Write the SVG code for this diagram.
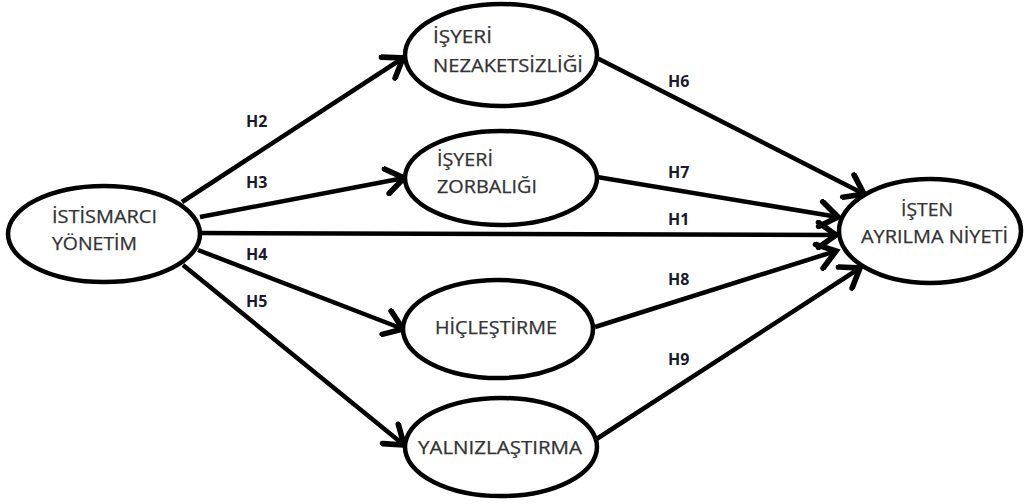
<svg xmlns="http://www.w3.org/2000/svg" width="1024" height="504" viewBox="0 0 1024 504">
<defs>
<style>
.node ellipse{fill:#fff;stroke:#000;stroke-width:4.5}
.node text{font-family:"Open Sans","Noto Sans","DejaVu Sans",sans-serif;font-size:17.5px;fill:#333;stroke:#333;stroke-width:0.25}
.conn line{stroke:#000;stroke-width:4.5;marker-end:url(#arr)}
.lbl{font-family:"Open Sans","Noto Sans","DejaVu Sans",sans-serif;font-size:16px;font-weight:bold;fill:#1a1a2a}
</style>
<marker id="arr" markerUnits="userSpaceOnUse" markerWidth="30" markerHeight="30" viewBox="-18 -12 22 24" refX="0" refY="0" orient="auto">
<path d="M-14,-10 L0,0 L-14,10" fill="none" stroke="#000" stroke-width="4.5" stroke-linecap="round" stroke-linejoin="miter"/>
</marker>
</defs>
<rect width="1024" height="504" fill="#fff"/>
<g id="connectors" class="conn">
<line x1="182" y1="202" x2="403" y2="58"/>
<line x1="200" y1="217" x2="404" y2="178"/>
<line x1="200" y1="233" x2="836" y2="235"/>
<line x1="198" y1="250" x2="403" y2="329"/>
<line x1="183" y1="265" x2="404" y2="445"/>
<line x1="595" y1="57" x2="864" y2="194"/>
<line x1="597" y1="177" x2="838" y2="217"/>
<line x1="595" y1="327" x2="836" y2="251"/>
<line x1="595" y1="440" x2="860" y2="268"/>
</g>
<g id="labels">
<text class="lbl" x="246" y="127">H2</text>
<text class="lbl" x="246" y="188">H3</text>
<text class="lbl" x="246" y="260">H4</text>
<text class="lbl" x="246" y="307">H5</text>
<text class="lbl" x="668" y="87">H6</text>
<text class="lbl" x="668" y="178">H7</text>
<text class="lbl" x="668" y="225">H1</text>
<text class="lbl" x="668" y="285">H8</text>
<text class="lbl" x="668" y="365">H9</text>
</g>
<g id="istismarci" class="node">
<ellipse cx="104" cy="234" rx="96" ry="48"/>
<text x="52" y="223" textLength="105" lengthAdjust="spacingAndGlyphs">İSTİSMARCI</text>
<text x="52" y="250" textLength="85" lengthAdjust="spacingAndGlyphs">YÖNETİM</text>
</g>
<g id="nezaketsizlik" class="node">
<ellipse cx="501" cy="55" rx="96" ry="51"/>
<text x="433" y="43" textLength="59" lengthAdjust="spacingAndGlyphs">İŞYERİ</text>
<text x="433" y="72" textLength="150" lengthAdjust="spacingAndGlyphs">NEZAKETSİZLİĞİ</text>
</g>
<g id="zorbalik" class="node">
<ellipse cx="501" cy="178" rx="96" ry="47"/>
<text x="437" y="166" textLength="56" lengthAdjust="spacingAndGlyphs">İŞYERİ</text>
<text x="437" y="193" textLength="100" lengthAdjust="spacingAndGlyphs">ZORBALIĞI</text>
</g>
<g id="hiclestirme" class="node">
<ellipse cx="498" cy="329" rx="95" ry="49"/>
<text x="435" y="334" textLength="122" lengthAdjust="spacingAndGlyphs">HİÇLEŞTİRME</text>
</g>
<g id="yalnizlastirma" class="node">
<ellipse cx="501" cy="447" rx="96" ry="49"/>
<text x="418" y="454" textLength="164" lengthAdjust="spacingAndGlyphs">YALNIZLAŞTIRMA</text>
</g>
<g id="isten-ayrilma" class="node">
<ellipse cx="930" cy="231" rx="91" ry="52"/>
<text x="901" y="216" textLength="52" lengthAdjust="spacingAndGlyphs">İŞTEN</text>
<text x="861" y="243" textLength="147" lengthAdjust="spacingAndGlyphs">AYRILMA NİYETİ</text>
</g>
</svg>
